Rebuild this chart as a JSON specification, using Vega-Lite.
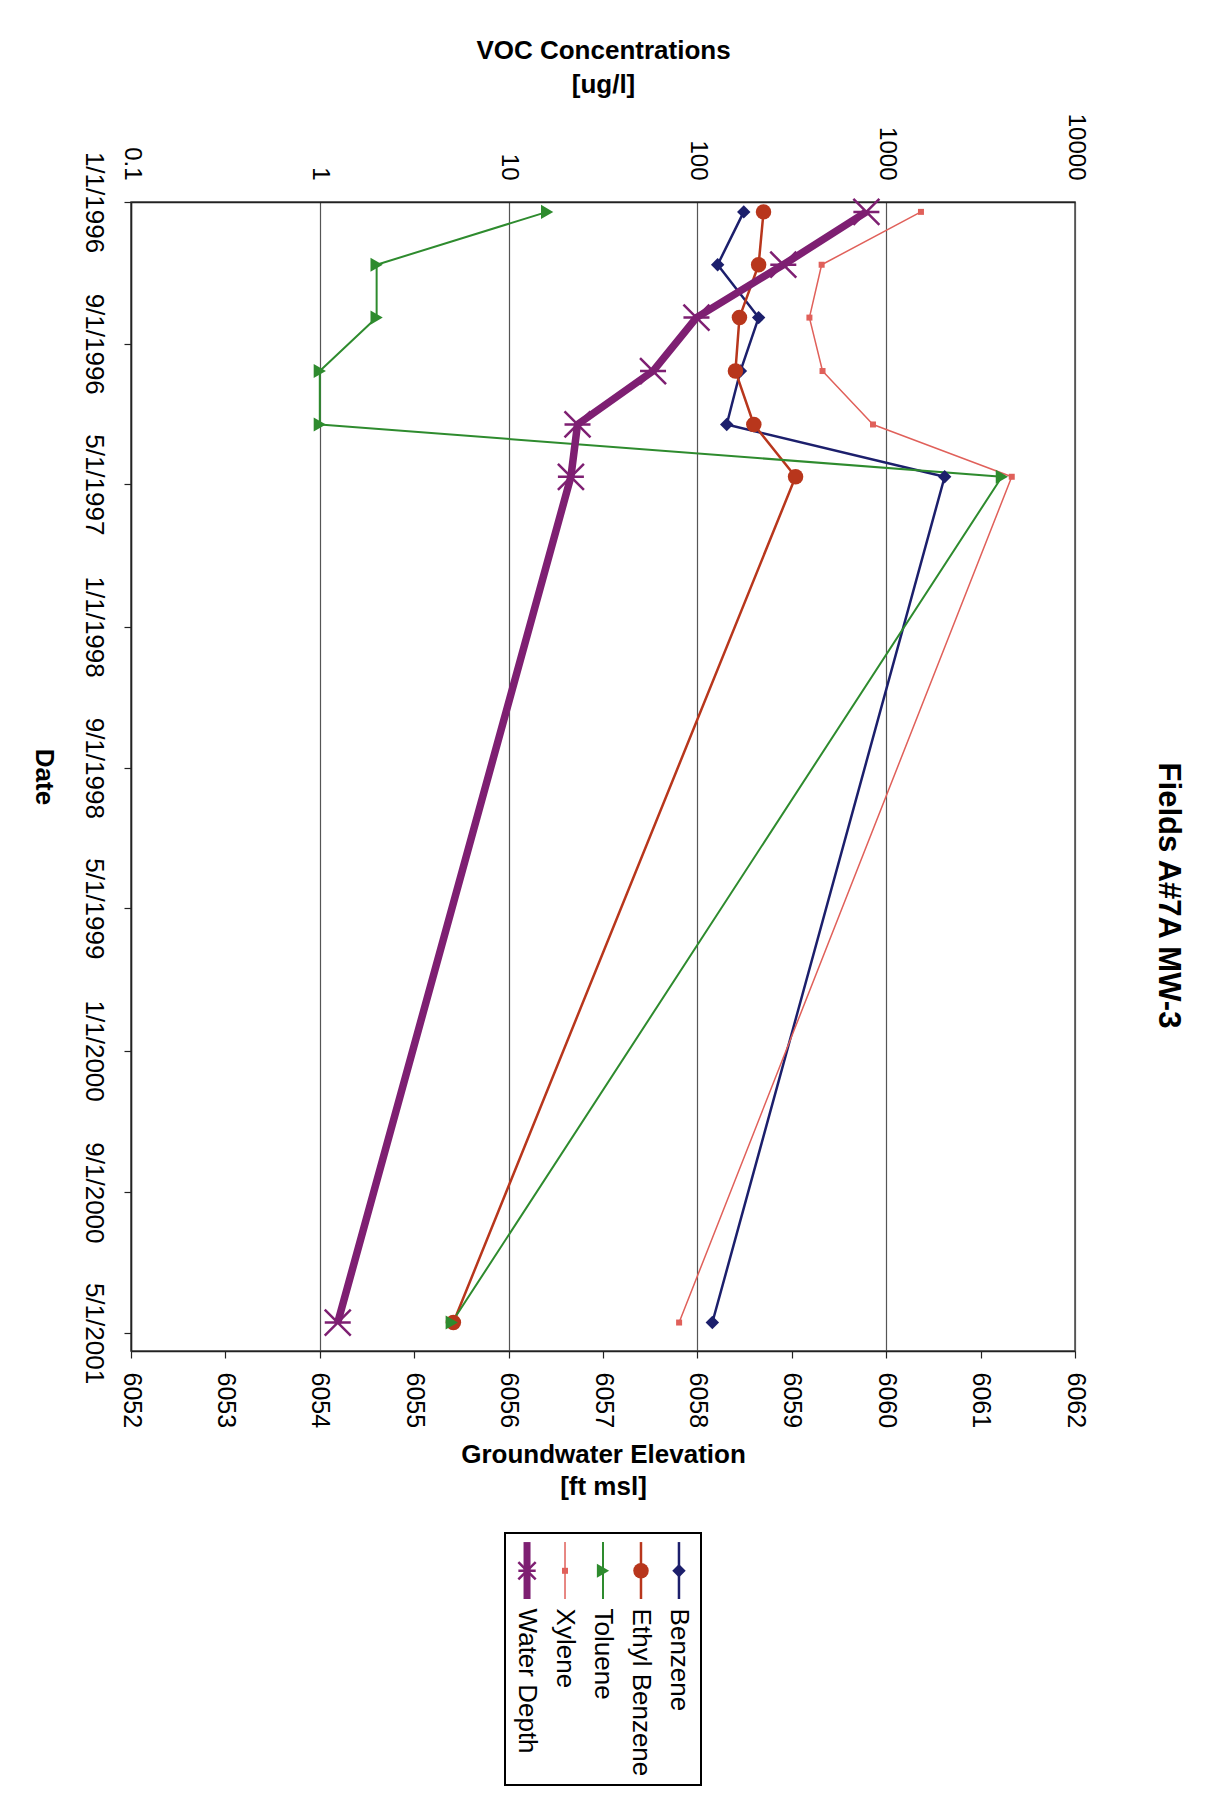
{
  "$schema": "https://vega.github.io/schema/vega-lite/v6.json",
  "background": "white",
  "padding": {"left": 29, "top": 36, "right": 5, "bottom": 5},
  "datasets": {
    "samples": [
      {"date": "1996/01/18", "series": "Benzene", "value": 176},
      {"date": "1996/04/18", "series": "Benzene", "value": 128},
      {"date": "1996/07/18", "series": "Benzene", "value": 211},
      {"date": "1996/10/18", "series": "Benzene", "value": 169},
      {"date": "1997/01/18", "series": "Benzene", "value": 143},
      {"date": "1997/04/18", "series": "Benzene", "value": 2040},
      {"date": "2001/04/13", "series": "Benzene", "value": 120},
      {"date": "1996/01/18", "series": "Ethyl Benzene", "value": 224},
      {"date": "1996/04/18", "series": "Ethyl Benzene", "value": 211},
      {"date": "1996/07/18", "series": "Ethyl Benzene", "value": 167},
      {"date": "1996/10/18", "series": "Ethyl Benzene", "value": 159},
      {"date": "1997/01/18", "series": "Ethyl Benzene", "value": 199},
      {"date": "1997/04/18", "series": "Ethyl Benzene", "value": 331},
      {"date": "2001/04/13", "series": "Ethyl Benzene", "value": 5.1},
      {"date": "1996/01/18", "series": "Toluene", "value": 16},
      {"date": "1996/04/18", "series": "Toluene", "value": 2},
      {"date": "1996/07/18", "series": "Toluene", "value": 2},
      {"date": "1996/10/18", "series": "Toluene", "value": 1},
      {"date": "1997/01/18", "series": "Toluene", "value": 1},
      {"date": "1997/04/18", "series": "Toluene", "value": 4100},
      {"date": "2001/04/13", "series": "Toluene", "value": 5},
      {"date": "1996/01/18", "series": "Xylene", "value": 1528},
      {"date": "1996/04/18", "series": "Xylene", "value": 455},
      {"date": "1996/07/18", "series": "Xylene", "value": 392},
      {"date": "1996/10/18", "series": "Xylene", "value": 460},
      {"date": "1997/01/18", "series": "Xylene", "value": 851},
      {"date": "1997/04/18", "series": "Xylene", "value": 4624},
      {"date": "2001/04/13", "series": "Xylene", "value": 80},
      {"date": "1996/01/18", "series": "Water Depth", "value": 6059.79},
      {"date": "1996/04/18", "series": "Water Depth", "value": 6058.91},
      {"date": "1996/07/18", "series": "Water Depth", "value": 6057.99},
      {"date": "1996/10/18", "series": "Water Depth", "value": 6057.53},
      {"date": "1997/01/18", "series": "Water Depth", "value": 6056.73},
      {"date": "1997/04/18", "series": "Water Depth", "value": 6056.66},
      {"date": "2001/04/13", "series": "Water Depth", "value": 6054.19}
    ],
    "legendRows": [
      {"series": "Benzene"},
      {"series": "Ethyl Benzene"},
      {"series": "Toluene"},
      {"series": "Xylene"},
      {"series": "Water Depth"}
    ]
  },
  "center": true,
  "bounds": "flush",
  "spacing": 182,
  "vconcat": [
    {
      "width": 944,
      "height": 1149,
      "data": {"name": "samples"},
      "view": {"stroke": "#444", "strokeWidth": 1.5},
      "title": {
        "text": "Fields A#7A MW-3",
        "orient": "right",
        "offset": 65,
        "dx": 119,
        "fontSize": 31,
        "fontWeight": "bold",
        "font": "Liberation Sans",
        "color": "black"
      },
      "encoding": {
        "y": {
          "field": "date",
          "type": "temporal",
          "scale": {
            "domain": [{"year": 1996, "month": 1, "date": 1}, {"year": 2001, "month": 6, "date": 1}],
            "reverse": true
          },
          "axis": {
            "orient": "left",
            "title": "Date",
            "titleAngle": 90,
            "titleBaseline": "top",
            "titleFontSize": 26,
            "titleFontWeight": "bold",
            "titlePadding": 24,
            "values": [
              {"year": 1996, "month": 1, "date": 1},
              {"year": 1996, "month": 9, "date": 1},
              {"year": 1997, "month": 5, "date": 1},
              {"year": 1998, "month": 1, "date": 1},
              {"year": 1998, "month": 9, "date": 1},
              {"year": 1999, "month": 5, "date": 1},
              {"year": 2000, "month": 1, "date": 1},
              {"year": 2000, "month": 9, "date": 1},
              {"year": 2001, "month": 5, "date": 1}
            ],
            "format": "%-m/%-d/%Y",
            "labelAngle": 90,
            "labelAlign": "center",
            "labelBaseline": "top",
            "labelFontSize": 26,
            "labelPadding": 18,
            "tickSize": 7,
            "grid": false
          }
        }
      },
      "layer": [
        {
          "transform": [{"filter": "datum.series !== 'Water Depth'"}],
          "encoding": {
            "x": {
              "field": "value",
              "type": "quantitative",
              "scale": {"type": "log", "domain": [0.1, 10000], "nice": false},
              "axis": {
                "orient": "top",
                "values": [0.1, 1, 10, 100, 1000, 10000],
                "format": "~g",
                "labelAngle": 90,
                "labelAlign": "right",
                "labelBaseline": "middle",
                "labelFontSize": 24,
                "labelPadding": 22,
                "ticks": false,
                "grid": true,
                "gridColor": "#555",
                "gridWidth": 1.2,
                "title": ["VOC Concentrations", "[ug/l]"],
                "titleFontSize": 26,
                "titleFontWeight": "bold",
                "titleLineHeight": 34,
                "titlePadding": 16
              }
            },
            "color": {
              "field": "series",
              "type": "nominal",
              "legend": null,
              "scale": {
                "domain": ["Benzene", "Ethyl Benzene", "Toluene", "Xylene", "Water Depth"],
                "range": ["#1c1f6c", "#b8361c", "#2e8b2e", "#e0605a", "#7e1f72"]
              }
            }
          },
          "layer": [
            {
              "mark": {"type": "line", "strokeJoin": "round"},
              "encoding": {
                "order": {"field": "date", "type": "temporal"},
                "strokeWidth": {
                  "condition": [
                    {"test": "datum.series === 'Xylene'", "value": 1.5},
                    {"test": "datum.series === 'Toluene'", "value": 2}
                  ],
                  "value": 2.5
                }
              }
            },
            {
              "mark": {"type": "point", "filled": true, "opacity": 1},
              "encoding": {
                "shape": {
                  "field": "series",
                  "type": "nominal",
                  "legend": null,
                  "scale": {
                    "domain": ["Benzene", "Ethyl Benzene", "Toluene", "Xylene", "Water Depth"],
                    "range": ["diamond", "circle", "triangle-right", "square", "M-1,-1L1,1M-1,1L1,-1M-1,0L1,0"]
                  }
                },
                "size": {
                  "condition": [
                    {"test": "datum.series === 'Xylene'", "value": 36},
                    {"test": "datum.series === 'Ethyl Benzene'", "value": 240},
                    {"test": "datum.series === 'Toluene'", "value": 200}
                  ],
                  "value": 180
                }
              }
            }
          ]
        },
        {
          "transform": [{"filter": "datum.series === 'Water Depth'"}],
          "encoding": {
            "x": {
              "field": "value",
              "type": "quantitative",
              "scale": {"domain": [6052, 6062], "nice": false, "zero": false},
              "axis": {
                "orient": "bottom",
                "values": [6052, 6053, 6054, 6055, 6056, 6057, 6058, 6059, 6060, 6061, 6062],
                "format": "d",
                "labelAngle": 90,
                "labelAlign": "left",
                "labelBaseline": "middle",
                "labelFontSize": 25,
                "labelPadding": 14,
                "tickSize": 7,
                "grid": false,
                "title": ["Groundwater Elevation", "[ft msl]"],
                "titleFontSize": 26,
                "titleFontWeight": "bold",
                "titleLineHeight": 32,
                "titlePadding": 14
              }
            },
            "color": {"field": "series", "type": "nominal", "legend": null}
          },
          "layer": [
            {
              "mark": {"type": "line", "strokeJoin": "round", "strokeWidth": 7.5},
              "encoding": {
                "order": {"field": "date", "type": "temporal"}
              }
            },
            {
              "mark": {"type": "point", "filled": false, "strokeWidth": 2.5, "opacity": 1, "size": 676},
              "encoding": {
                "shape": {"field": "series", "type": "nominal", "legend": null}
              }
            }
          ]
        }
      ],
      "resolve": {"scale": {"x": "independent"}, "axis": {"x": "independent"}}
    },
    {
      "width": 196,
      "height": 252,
      "data": {"name": "legendRows"},
      "view": {"stroke": "black", "strokeWidth": 2},
      "encoding": {
        "x": {
          "field": "series",
          "type": "nominal",
          "scale": {"type": "point", "domain": ["Water Depth", "Xylene", "Toluene", "Ethyl Benzene", "Benzene"], "padding": 0.58},
          "axis": null
        },
        "color": {"field": "series", "type": "nominal", "legend": null}
      },
      "layer": [
        {
          "mark": {"type": "rule"},
          "encoding": {
            "y": {"datum": 0.36, "type": "quantitative", "scale": {"domain": [0, 10], "reverse": true}, "axis": null},
            "y2": {"datum": 2.62},
            "strokeWidth": {
              "condition": [
                {"test": "datum.series === 'Water Depth'", "value": 7},
                {"test": "datum.series === 'Xylene'", "value": 1.5},
                {"test": "datum.series === 'Toluene'", "value": 2}
              ],
              "value": 2.5
            }
          }
        },
        {
          "transform": [{"filter": "datum.series !== 'Water Depth'"}],
          "mark": {"type": "point", "filled": true, "opacity": 1},
          "encoding": {
            "y": {"datum": 1.5, "type": "quantitative", "axis": null},
            "shape": {"field": "series", "type": "nominal", "legend": null},
            "size": {
              "condition": [
                {"test": "datum.series === 'Xylene'", "value": 36},
                {"test": "datum.series === 'Ethyl Benzene'", "value": 240},
                {"test": "datum.series === 'Toluene'", "value": 200}
              ],
              "value": 180
            }
          }
        },
        {
          "transform": [{"filter": "datum.series === 'Water Depth'"}],
          "mark": {"type": "point", "filled": false, "strokeWidth": 2.5, "opacity": 1, "size": 300},
          "encoding": {
            "y": {"datum": 1.5, "type": "quantitative", "axis": null},
            "shape": {"field": "series", "type": "nominal", "legend": null}
          }
        },
        {
          "mark": {"type": "text", "angle": 90, "align": "left", "baseline": "middle", "fontSize": 26, "font": "Liberation Sans", "color": "black"},
          "encoding": {
            "y": {"datum": 3.0, "type": "quantitative", "axis": null},
            "text": {"field": "series"},
            "color": {"value": "black"}
          }
        }
      ]
    }
  ],
  "config": {
    "font": "Liberation Sans",
    "view": {"stroke": null},
    "axis": {
      "labelFont": "Liberation Sans",
      "titleFont": "Liberation Sans",
      "labelColor": "black",
      "titleColor": "black",
      "domainColor": "#222",
      "domainWidth": 1.5,
      "tickColor": "#222",
      "tickWidth": 1.2,
      "labelFlush": false,
      "labelOverlap": false
    }
  }
}
